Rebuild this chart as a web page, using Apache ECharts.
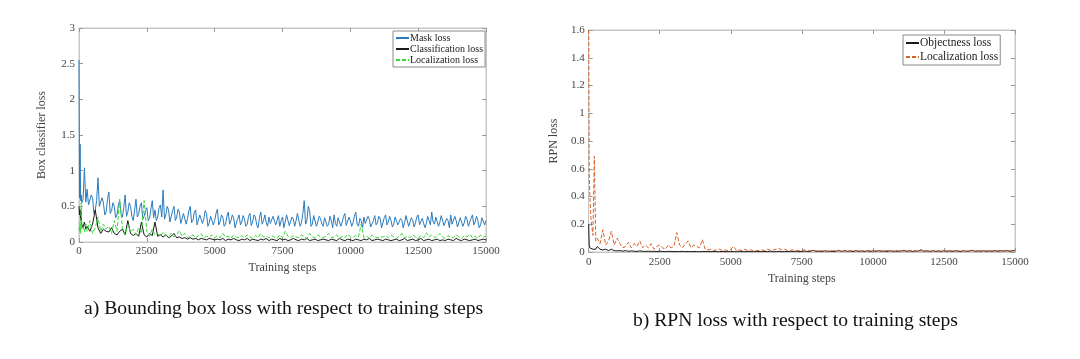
<!DOCTYPE html>
<html>
<head>
<meta charset="utf-8">
<script src="https://cdn.jsdelivr.net/npm/echarts@6/dist/echarts.min.js"></script>
<style>
html,body{margin:0;padding:0;background:#fff;}
#wrap{position:relative;width:1080px;height:359px;}
#c1{position:absolute;left:0;top:0;width:540px;height:359px;}
#c2{position:absolute;left:540px;top:0;width:540px;height:359px;}
</style>
</head>
<body>
<div id="wrap"><div id="c1"></div><div id="c2"></div></div>
<script>
// Sampling positions (training steps)
const steps = [0, 20, 40, 60, 80, 100, 150, 200, 250];
for (let s = 300; s <= 15000; s += 100) steps.push(s);
const stepsFine = [0, 20, 40, 60, 80, 100, 150, 200, 250];
for (let s = 300; s <= 15000; s += 50) stepsFine.push(s);

const xTicks = [0, 2500, 5000, 7500, 10000, 12500, 15000];

// (a) Box classifier losses
const maskLoss = [
  2.55, 0.62, 1.37, 0.58, 0.66, 0.55, 0.6, 1.04, 0.56,
  0.74, 0.52, 0.5, 0.66, 0.62, 0.4, 0.45, 0.58, 0.9, 0.5, 0.48, 0.62, 0.55, 0.38, 0.42, 0.6,
  0.7, 0.4, 0.44, 0.55, 0.5, 0.34, 0.38, 0.52, 0.58, 0.4, 0.35, 0.48, 0.66, 0.36, 0.42, 0.55, 0.5, 0.36, 0.3, 0.45,
  0.6, 0.35, 0.4, 0.5, 0.55, 0.32, 0.36, 0.44, 0.48, 0.3, 0.33, 0.46, 0.58, 0.34, 0.45, 0.3, 0.35, 0.48, 0.52, 0.35,
  0.73, 0.32, 0.38, 0.5, 0.45, 0.28, 0.3, 0.44, 0.5, 0.3, 0.35, 0.46, 0.42, 0.26, 0.28, 0.4, 0.38, 0.25, 0.33, 0.44,
  0.5, 0.27, 0.3, 0.42, 0.45, 0.24, 0.25, 0.38, 0.38, 0.26, 0.32, 0.44, 0.4, 0.22, 0.27, 0.36, 0.35, 0.24, 0.3, 0.4,
  0.46, 0.24, 0.28, 0.38, 0.35, 0.22, 0.25, 0.36, 0.42, 0.25, 0.3, 0.38, 0.34, 0.2, 0.22, 0.33, 0.38, 0.24, 0.28, 0.37,
  0.32, 0.22, 0.25, 0.36, 0.4, 0.23, 0.28, 0.38, 0.35, 0.24, 0.2, 0.34, 0.42, 0.25, 0.3, 0.38, 0.27, 0.22, 0.35, 0.26,
  0.25, 0.36, 0.38, 0.24, 0.3, 0.37, 0.22, 0.3, 0.35, 0.2, 0.28, 0.38, 0.4, 0.23, 0.25, 0.35, 0.32, 0.22, 0.3, 0.4,
  0.38, 0.22, 0.27, 0.4, 0.58, 0.25, 0.3, 0.5, 0.44, 0.22, 0.25, 0.37, 0.35, 0.22, 0.28, 0.36, 0.33, 0.25, 0.22, 0.34,
  0.35, 0.22, 0.25, 0.36, 0.3, 0.2, 0.38, 0.26, 0.22, 0.34, 0.32, 0.22, 0.28, 0.36, 0.4, 0.23, 0.24, 0.35, 0.3, 0.22,
  0.27, 0.36, 0.42, 0.25, 0.22, 0.33, 0.3, 0.2, 0.35, 0.26, 0.25, 0.36, 0.32, 0.21, 0.2, 0.3, 0.37, 0.24, 0.27, 0.36,
  0.33, 0.2, 0.22, 0.34, 0.38, 0.24, 0.28, 0.36, 0.3, 0.21, 0.25, 0.35, 0.36, 0.24, 0.22, 0.33, 0.3, 0.2, 0.27, 0.37,
  0.35, 0.22, 0.24, 0.34, 0.3, 0.21, 0.27, 0.35, 0.38, 0.24, 0.22, 0.33, 0.32, 0.2, 0.26, 0.36, 0.3, 0.24, 0.42, 0.28,
  0.25, 0.35, 0.33, 0.22, 0.28, 0.37, 0.35, 0.23, 0.22, 0.33, 0.3, 0.2, 0.38, 0.25, 0.26, 0.36, 0.3, 0.21, 0.23, 0.34,
  0.35, 0.22, 0.27, 0.36, 0.32, 0.22, 0.22, 0.33, 0.38, 0.24, 0.28, 0.36, 0.3, 0.2, 0.24, 0.34, 0.35, 0.24, 0.3
];
const classLoss = [
  0.5, 0.38, 0.45, 0.3, 0.42, 0.25, 0.2, 0.28, 0.18,
  0.22, 0.15, 0.25, 0.45, 0.2, 0.12, 0.18, 0.15,
  0.14, 0.2, 0.12, 0.1, 0.15, 0.18, 0.1, 0.3, 0.12, 0.09,
  0.12, 0.08, 0.28, 0.1, 0.07, 0.12, 0.09, 0.28, 0.08, 0.1,
  0.07, 0.1, 0.06, 0.08, 0.12, 0.06, 0.07, 0.05, 0.06, 0.04,
  0.06, 0.04, 0.05, 0.03, 0.05, 0.04, 0.03, 0.05, 0.04, 0.03,
  0.04, 0.03, 0.05, 0.02, 0.04, 0.03, 0.05, 0.03, 0.02, 0.04,
  0.03, 0.05, 0.02, 0.04, 0.03, 0.02, 0.04, 0.03, 0.05, 0.02,
  0.04, 0.03, 0.02, 0.05, 0.03, 0.04, 0.02, 0.03, 0.05, 0.03,
  0.02, 0.04, 0.03, 0.05, 0.02, 0.03, 0.04, 0.02, 0.03, 0.04,
  0.03, 0.02, 0.04, 0.03, 0.02, 0.05, 0.03, 0.02, 0.04, 0.03,
  0.02, 0.04, 0.03, 0.02, 0.04, 0.03, 0.05, 0.02, 0.03, 0.04,
  0.03, 0.02, 0.04, 0.03, 0.02, 0.03, 0.04, 0.02, 0.03, 0.05,
  0.02, 0.03, 0.04, 0.02, 0.03, 0.05, 0.02, 0.03, 0.04, 0.02,
  0.03, 0.04, 0.02, 0.03, 0.02, 0.04, 0.03, 0.02, 0.05, 0.03,
  0.02, 0.04, 0.03, 0.02, 0.03, 0.04, 0.02, 0.03, 0.04, 0.03
];
const boxLocLoss = [
  0.2, 0.15, 0.28, 0.12, 0.55, 0.18, 0.22, 0.14, 0.25,
  0.15, 0.3, 0.12, 0.2, 0.35, 0.15, 0.25, 0.18,
  0.22, 0.12, 0.3, 0.15, 0.6, 0.2, 0.1, 0.25, 0.14, 0.18,
  0.1, 0.2, 0.12, 0.58, 0.15, 0.08, 0.18, 0.1, 0.12, 0.08,
  0.14, 0.1, 0.08, 0.12, 0.07, 0.1, 0.16, 0.08, 0.12, 0.06,
  0.08, 0.1, 0.06, 0.09, 0.12, 0.06, 0.08, 0.07, 0.1, 0.06,
  0.09, 0.06, 0.12, 0.07, 0.08, 0.05, 0.1, 0.07, 0.06, 0.09,
  0.06, 0.1, 0.07, 0.05, 0.09, 0.06, 0.12, 0.07, 0.08, 0.06,
  0.09, 0.07, 0.05, 0.1, 0.06, 0.15, 0.08, 0.06, 0.09, 0.07,
  0.06, 0.1, 0.08, 0.05, 0.12, 0.07, 0.06, 0.1, 0.07, 0.06,
  0.08, 0.12, 0.06, 0.07, 0.1, 0.05, 0.08, 0.06, 0.11, 0.07,
  0.06, 0.09, 0.07, 0.25, 0.06, 0.08, 0.05, 0.1, 0.07, 0.06,
  0.07, 0.07, 0.09, 0.06, 0.1, 0.07, 0.05, 0.08, 0.12, 0.06,
  0.08, 0.06, 0.1, 0.07, 0.05, 0.09, 0.06, 0.13, 0.07, 0.1,
  0.06, 0.08, 0.12, 0.07, 0.05, 0.09, 0.07, 0.06, 0.1, 0.07,
  0.05, 0.09, 0.07, 0.11, 0.06, 0.08, 0.05, 0.1, 0.07, 0.08
];

// (b) RPN losses
const objLoss = [
  0.2, 0.05, 0.03, 0.03, 0.04, 0.03, 0.02, 0.03, 0.02,
  0.04, 0.02, 0.015, 0.02, 0.01, 0.02, 0.01, 0.008,
  0.01, 0.006, 0.01, 0.005, 0.008, 0.006, 0.004, 0.008, 0.005, 0.004,
  0.006, 0.004, 0.005, 0.003, 0.006, 0.004, 0.003, 0.005, 0.004, 0.003,
  0.004, 0.003, 0.005, 0.003, 0.004, 0.002, 0.004, 0.003, 0.002, 0.004,
  0.003, 0.005, 0.002, 0.004, 0.003, 0.002, 0.004, 0.003, 0.002, 0.004,
  0.003, 0.002, 0.005, 0.003, 0.002, 0.004, 0.003, 0.002, 0.004, 0.003,
  0.002, 0.004, 0.003, 0.006, 0.002, 0.003, 0.005, 0.002, 0.004, 0.003,
  0.005, 0.003, 0.006, 0.002, 0.004, 0.007, 0.003, 0.005, 0.012, 0.004,
  0.006, 0.003, 0.008, 0.004, 0.006, 0.003, 0.005, 0.012, 0.004, 0.01,
  0.005, 0.008, 0.003, 0.01, 0.005, 0.007, 0.003, 0.009, 0.004, 0.008,
  0.004, 0.01, 0.005, 0.007, 0.003, 0.009, 0.005, 0.006, 0.004, 0.008,
  0.012, 0.005, 0.009, 0.004, 0.008, 0.006, 0.016, 0.005, 0.008, 0.004,
  0.009, 0.005, 0.007, 0.004, 0.01, 0.005, 0.008, 0.004, 0.009, 0.006,
  0.004, 0.009, 0.005, 0.007, 0.012, 0.004, 0.008, 0.005, 0.009, 0.004,
  0.008, 0.005, 0.01, 0.004, 0.009, 0.006, 0.011, 0.005, 0.008, 0.012
];
const rpnLocLoss = [
  1.6, 0.57, 0.42, 0.33, 0.25, 0.2, 0.12, 0.69, 0.08,
  0.1, 0.06, 0.16, 0.05, 0.08, 0.15, 0.05, 0.1,
  0.06, 0.03, 0.04, 0.07, 0.03, 0.06, 0.04, 0.08, 0.03, 0.05,
  0.03, 0.06, 0.02, 0.04, 0.05, 0.03, 0.02, 0.05, 0.03, 0.04,
  0.14, 0.05, 0.03, 0.06, 0.08, 0.03, 0.05, 0.04, 0.03, 0.09,
  0.02, 0.015, 0.02, 0.01, 0.015, 0.02, 0.01, 0.015, 0.01, 0.02,
  0.04, 0.01, 0.015, 0.01, 0.02, 0.01, 0.015, 0.01, 0.012, 0.01,
  0.015, 0.01, 0.02, 0.012, 0.015, 0.02, 0.025, 0.015, 0.02, 0.01,
  0.012, 0.015, 0.008, 0.012, 0.01, 0.015, 0.008, 0.01, 0.012, 0.008,
  0.01, 0.008, 0.012, 0.006, 0.01, 0.008, 0.012, 0.007, 0.009, 0.006,
  0.008, 0.006, 0.01, 0.007, 0.012, 0.006, 0.009, 0.007, 0.01, 0.006,
  0.009, 0.007, 0.011, 0.006, 0.01, 0.008, 0.006, 0.012, 0.007, 0.009,
  0.006, 0.01, 0.008, 0.012, 0.007, 0.009, 0.006, 0.011, 0.008, 0.006,
  0.01, 0.007, 0.009, 0.006, 0.012, 0.008, 0.006, 0.01, 0.007, 0.009,
  0.006, 0.011, 0.008, 0.006, 0.01, 0.007, 0.012, 0.008, 0.006, 0.009,
  0.007, 0.01, 0.006, 0.009, 0.008, 0.011, 0.006, 0.009, 0.007, 0.01
];

const FONT = "'Liberation Serif', 'Times New Roman', serif";
const zip = (xs, vals) => xs.map((s, i) => [s, vals[i]]);

function tick() {
  return { show: true, inside: true, length: 4, lineStyle: { color: '#9a9a9a', width: 1 } };
}
function line() {
  return { show: true, onZero: false, lineStyle: { color: '#c6c6c6', width: 1 } };
}

function axes(yMax, yInterval, yName, xNameGap, yNameGap, xLabelMargin) {
  return {
    xAxis: [
      { type: 'value', position: 'bottom', min: 0, max: 15000, interval: 2500,
        name: 'Training steps', nameLocation: 'middle', nameGap: xNameGap,
        nameTextStyle: { fontFamily: FONT, fontSize: 12, color: '#444' },
        axisLine: line(), axisTick: tick(), splitLine: { show: false },
        axisLabel: { fontFamily: FONT, fontSize: 11, color: '#444', margin: xLabelMargin,
          formatter: (v) => xTicks.includes(v) ? String(v) : '' } },
      { type: 'value', position: 'top', min: 0, max: 15000, interval: 2500,
        axisLine: line(), axisTick: tick(), splitLine: { show: false }, axisLabel: { show: false } }
    ],
    yAxis: [
      { type: 'value', position: 'left', min: 0, max: yMax, interval: yInterval,
        name: yName, nameLocation: 'middle', nameGap: yNameGap, nameRotate: 90,
        nameTextStyle: { fontFamily: FONT, fontSize: 12, color: '#444' },
        axisLine: line(), axisTick: tick(), splitLine: { show: false },
        axisLabel: { fontFamily: FONT, fontSize: 11, color: '#444', margin: 4 } },
      { type: 'value', position: 'right', min: 0, max: yMax, interval: yInterval,
        axisLine: line(), axisTick: tick(), splitLine: { show: false }, axisLabel: { show: false } }
    ]
  };
}

function lineSeries(name, xs, vals, color, dashed) {
  return {
    name, type: 'line', data: zip(xs, vals), showSymbol: false, symbol: 'none', animation: false,
    xAxisIndex: 0, yAxisIndex: 0,
    lineStyle: { color, width: 1, type: dashed ? [4, 2] : 'solid' },
    itemStyle: { color }
  };
}

function legendOf(left, top, fontSize, names) {
  return {
    orient: 'vertical', left, top, backgroundColor: '#fff', borderColor: '#8a8a8a', borderWidth: 1,
    padding: [2, 2, 2, 2], itemGap: 1, itemWidth: 13, itemHeight: 10,
    itemStyle: { opacity: 0 },
    textStyle: { fontFamily: FONT, fontSize, color: '#222', padding: [0, 0, 0, -4] },
    selectedMode: false, data: names
  };
}

// Chart (a)
const c1 = echarts.init(document.getElementById('c1'), null, { renderer: 'canvas' });
c1.setOption(Object.assign({
  animation: false,
  title: { text: 'a) Bounding box loss with respect to training steps', left: 84, top: 299, padding: 0,
    textStyle: { fontFamily: FONT, fontSize: 19.7, fontWeight: 'normal', color: '#111' } },
  grid: { left: 79, right: 54, top: 28, bottom: 117, show: true, borderColor: '#c6c6c6', borderWidth: 1, backgroundColor: '#fff' },
  legend: legendOf(393, 31, 10, ['Mask loss', 'Classification loss', 'Localization loss']),
  series: [
    lineSeries('Mask loss', stepsFine, maskLoss, '#2a7bbd', false),
    lineSeries('Classification loss', steps, classLoss, '#1a1a1a', false),
    lineSeries('Localization loss', steps, boxLocLoss, '#35d935', true)
  ]
}, axes(3, 0.5, 'Box classifier loss', 19, 31, 4)));

// Chart (b)
const c2 = echarts.init(document.getElementById('c2'), null, { renderer: 'canvas' });
c2.setOption(Object.assign({
  animation: false,
  title: { text: 'b) RPN loss with respect to training steps', left: 93, top: 311, padding: 0,
    textStyle: { fontFamily: FONT, fontSize: 19.6, fontWeight: 'normal', color: '#111' } },
  grid: { left: 41, right: 65, top: 30, bottom: 107, show: true, borderColor: '#c6c6c6', borderWidth: 1, backgroundColor: '#fff' },
  legend: Object.assign(legendOf(363, 35, 11.5, ['Objectness loss', 'Localization loss']), { itemGap: 2 }),
  series: [
    lineSeries('Objectness loss', steps, objLoss, '#1a1a1a', false),
    lineSeries('Localization loss', steps, rpnLocLoss, '#d6632b', true)
  ]
}, axes(1.6, 0.2, 'RPN loss', 20, 20, 5)));
</script>
</body>
</html>
